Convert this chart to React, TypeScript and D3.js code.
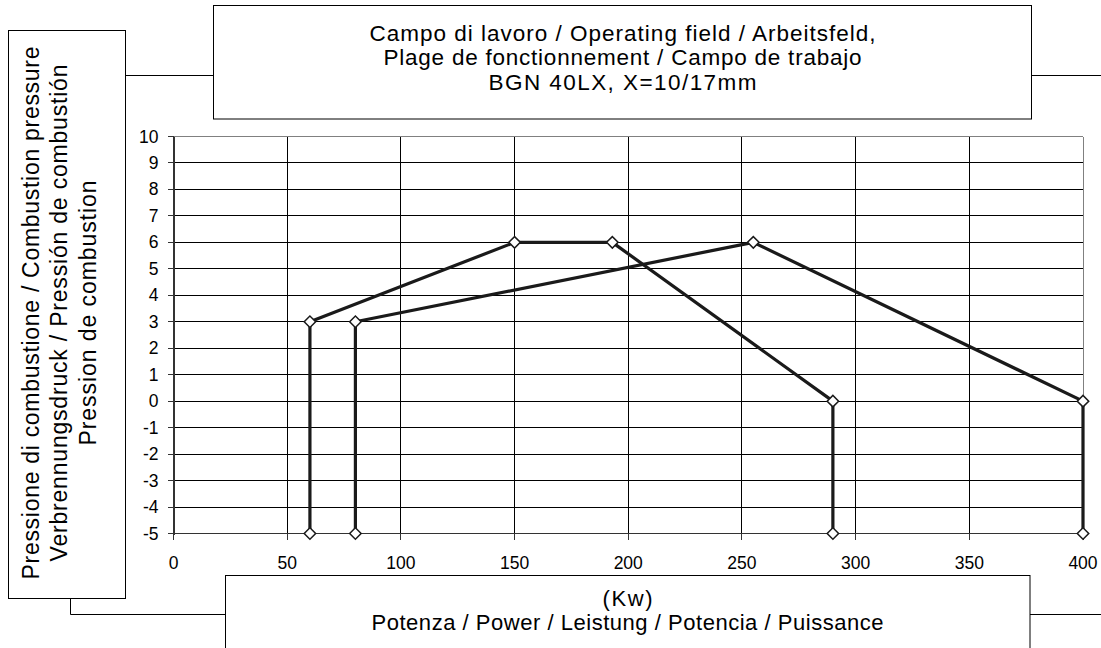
import React from "react";
import * as d3 from "d3";

const seriesA = [
  { x: 60, y: -5 },
  { x: 60, y: 3 },
  { x: 150, y: 6 },
  { x: 193, y: 6 },
  { x: 290, y: 0 },
  { x: 290, y: -5 },
];
const seriesB = [
  { x: 80, y: -5 },
  { x: 80, y: 3 },
  { x: 255, y: 6 },
  { x: 400, y: 0 },
  { x: 400, y: -5 },
];
const xTicks = [0, 50, 100, 150, 200, 250, 300, 350, 400];
const yTicks = [-5, -4, -3, -2, -1, 0, 1, 2, 3, 4, 5, 6, 7, 8, 9, 10];
const titleLines = [
  "Campo di lavoro / Operating field / Arbeitsfeld,",
  "Plage de fonctionnement / Campo de trabajo",
  "BGN 40LX, X=10/17mm",
];
const yLabelLines = [
  "Pressione di combustione / Combustion pressure",
  "Verbrennungsdruck / Pressión de combustión",
  "Pression de combustion",
];
const xLabelLines = ["(Kw)", "Potenza / Power / Leistung / Potencia / Puissance"];

const FONT = "'Liberation Sans', Arial, sans-serif";

export default function App() {
  const x = d3.scaleLinear().domain([0, 400]).range([173.5, 1083]);
  const y = d3.scaleLinear().domain([-5, 10]).range([533.5, 136.5]);
  const line = d3
    .line<{ x: number; y: number }>()
    .x((d) => x(d.x))
    .y((d) => y(d.y));
  const diamond = d3.symbol().type(d3.symbolSquare).size(66)();

  const titleW = [506, 478, 268];
  const titleBase = [41, 65, 89.5];
  const yLabW = [533, 497, 265];
  const yLabBase = [38.5, 67, 95.5];
  const xLabW = [50, 512];
  const xLabBase = [605.5, 630];

  return (
    <svg
      width={1101}
      height={648}
      style={{ position: "absolute", left: 0, top: 0, display: "block", background: "#fff" }}
      fontFamily={FONT}
    >
      <rect x={0} y={0} width={1101} height={648} fill="#fff" />
      {/* connectors */}
      <g stroke="#000" strokeWidth={1} fill="none">
        <line x1={125} x2={213.5} y1={75.5} y2={75.5} />
        <line x1={1031.5} x2={1101} y1={75.5} y2={75.5} />
        <polyline points="70.5,598 70.5,614.5 225.5,614.5" />
        <line x1={1030} x2={1101} y1={614.5} y2={614.5} />
      </g>
      {/* title box */}
      <rect x={213.5} y={5.5} width={818} height={113.5} fill="#fff" stroke="#000" strokeWidth={1} />
      {titleLines.map((t, i) => (
        <text
          key={i}
          x={622.5}
          y={titleBase[i]}
          textAnchor="middle"
          fontSize={22.5}
          textLength={titleW[i]}
          lengthAdjust="spacing"
        >
          {t}
        </text>
      ))}
      {/* y label box */}
      <rect x={8.5} y={30.5} width={117} height={568} fill="#fff" stroke="#000" strokeWidth={1} />
      {yLabelLines.map((t, i) => (
        <text
          key={i}
          transform={`translate(${yLabBase[i]},313) rotate(-90)`}
          textAnchor="middle"
          fontSize={23}
          textLength={yLabW[i]}
          lengthAdjust="spacing"
        >
          {t}
        </text>
      ))}
      {/* x label box */}
      <rect x={225.5} y={575.5} width={804.5} height={100} fill="#fff" stroke="#000" strokeWidth={1} />
      {xLabelLines.map((t, i) => (
        <text
          key={i}
          x={627.5}
          y={xLabBase[i]}
          textAnchor="middle"
          fontSize={22}
          textLength={xLabW[i]}
          lengthAdjust="spacing"
        >
          {t}
        </text>
      ))}
      {/* grid */}
      <g stroke="#000" strokeWidth={1} shapeRendering="crispEdges">
        {yTicks.map((v) => (
          <line key={"h" + v} x1={x(0)} x2={x(400)} y1={y(v)} y2={y(v)} stroke={v === 10 ? "#808080" : "#000"} />
        ))}
        {xTicks.map((v) => (
          <line key={"v" + v} x1={x(v)} x2={x(v)} y1={y(10)} y2={y(-5)} stroke={v === 400 ? "#808080" : "#000"} />
        ))}
      </g>
      {/* axes */}
      <g stroke="#333" shapeRendering="crispEdges">
        <line x1={x(0)} x2={x(0)} y1={y(10)} y2={y(-5) + 1} strokeWidth={2} />
        <line x1={x(0)} x2={x(400)} y1={y(-5)} y2={y(-5)} strokeWidth={1.5} />
        {yTicks.map((v) => (
          <line key={"yt" + v} x1={x(0) - 6} x2={x(0)} y1={y(v)} y2={y(v)} strokeWidth={1} />
        ))}
        {xTicks.map((v) => (
          <line key={"xt" + v} x1={x(v)} x2={x(v)} y1={y(-5)} y2={y(-5) + 6} strokeWidth={1} />
        ))}
      </g>
      {yTicks.map((v) => (
        <text key={"yl" + v} x={158.5} y={y(v) + 6} textAnchor="end" fontSize={17.5}>
          {v}
        </text>
      ))}
      {xTicks.map((v) => (
        <text key={"xl" + v} x={x(v)} y={569} textAnchor="middle" fontSize={17.5}>
          {v}
        </text>
      ))}
      {/* series */}
      {[seriesA, seriesB].map((s, i) => (
        <g key={"s" + i}>
          <path d={line(s) || ""} fill="none" stroke="#1a1a1a" strokeWidth={3.2} strokeLinejoin="round" />
          {s.map((d, j) => (
            <path
              key={j}
              d={diamond || ""}
              transform={`translate(${x(d.x)},${y(d.y)}) rotate(45)`}
              fill="#fff"
              stroke="#1a1a1a"
              strokeWidth={1.5}
            />
          ))}
        </g>
      ))}
    </svg>
  );
}
